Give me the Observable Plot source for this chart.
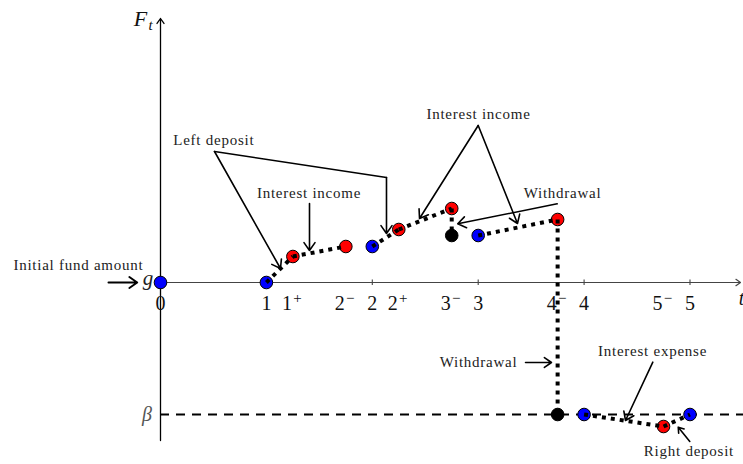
<!DOCTYPE html>
<html>
<head>
<meta charset="utf-8">
<script src="https://cdn.jsdelivr.net/npm/d3@7"></script>
<script src="https://cdn.jsdelivr.net/npm/@observablehq/plot@0.6"></script>
<style>
  body { margin: 0; background: #fff; }
</style>
</head>
<body>
<div id="chart"></div>
<script>
// Fund value path F_t over time: each state of the fund
const stateNames  = ["0", "1", "1+", "2-", "2", "2+", "3-", "3-w", "3", "4-", "4-w", "4", "5-", "5"];
const stateTimes  = [0, 1, 1.25, 1.75, 2, 2.25, 2.75, 2.75, 3, 3.75, 3.75, 4, 4.75, 5];
const stateLevels = [0, 0, 0.26, 0.36, 0.36, 0.53, 0.74, 0.47, 0.47, 0.63, -1.32, -1.32, -1.44, -1.32];
// start = beginning of a period, end = just before a cash flow, after = just after a withdrawal
const stateKinds  = ["start", "start", "end", "end", "start", "end", "end", "after", "start", "end", "after", "start", "end", "start"];

// Dotted path pieces (pairs of state indices)
const pathPieces = [[1, 2], [2, 3], [4, 5], [5, 6], [6, 7], [8, 9], [9, 10], [11, 12], [12, 13]];

// Levels
const initialFund = 0;     // g
const floorLevel = -1.32;  // beta

// Time axis labels
const tickTimes = [0, 1, 1.25, 1.75, 2, 2.25, 2.75, 3, 3.75, 4, 4.75, 5];
const tickBase  = ["0", "1", "1", "2", "2", "2", "3", "3", "4", "4", "5", "5"];
const tickSup   = ["", "", "+", "\u2212", "", "+", "\u2212", "", "\u2212", "", "\u2212", ""];
const tickMarks = [2, 3, 4, 5];

// Annotation texts (x, baseline y)
const noteTexts = ["Left deposit", "Interest income", "Interest income", "Withdrawal", "Withdrawal", "Interest expense", "Right deposit", "Initial fund amount"];
const noteX = [0.503, 1.402, 3.003, 3.796, 3.003, 4.646, 4.990, -0.775];
const noteY = [1.38, 0.85, 1.64, 0.85, -0.847, -0.73, -1.73, 0.13];

// Annotation arrows [x1, y1, x2, y2]
const noteArrows = [
  [0.51, 1.31, 1.133, 0.14],
  [2.134, 1.05, 2.134, 0.49],
  [1.407, 0.79, 1.407, 0.32],
  [3.0, 1.57, 2.446, 0.64],
  [3.0, 1.57, 3.371, 0.59],
  [3.746, 0.787, 2.807, 0.587],
  [3.447, -0.80, 3.692, -0.80],
  [4.649, -0.797, 4.391, -1.38],
  [4.998, -1.59, 4.889, -1.447]
];
// Bend of the "Left deposit" pointer
const noteBend = [[0.51, 1.31], [2.134, 1.05]];
// Pointer to g
const gArrow = [[-0.491, 0, -0.22, 0]];

const states = stateNames.map((n, i) => ({name: n, t: stateTimes[i], F: stateLevels[i], kind: stateKinds[i]}));
const pieces = pathPieces.map(([a, b]) => ({x1: stateTimes[a], y1: stateLevels[a], x2: stateTimes[b], y2: stateLevels[b]}));
const ticks = tickTimes.map((t, i) => ({t, base: tickBase[i], sup: tickSup[i]}));
const notes = noteTexts.map((s, i) => ({s, x: noteX[i], y: noteY[i]}));
const arrows = noteArrows.map(([x1, y1, x2, y2]) => ({x1, y1, x2, y2}));

const serif = "'Liberation Serif', 'DejaVu Serif', serif";

const chart = Plot.plot({
  width: 743,
  height: 464,
  marginLeft: 0, marginRight: 0, marginTop: 0, marginBottom: 0,
  x: {domain: [-160 / 105.9, 583 / 105.9], axis: null},
  y: {domain: [-1.82, 2.82], axis: null},
  color: {type: "ordinal", domain: ["start", "end", "after"], range: ["#0000ff", "#ff0000", "#000000"]},
  style: {fontFamily: serif, background: "#fff"},
  marks: [
    // beta floor
    Plot.ruleY([floorLevel], {x1: 0, x2: 5.6, stroke: "#000", strokeWidth: 1.8, strokeDasharray: "9,7"}),
    // time axis
    Plot.arrow([{x1: 0, y1: 0, x2: 5.477, y2: 0}], {x1: "x1", y1: "y1", x2: "x2", y2: "y2", stroke: "#444", strokeWidth: 1.2, headLength: 7, headAngle: 70}),
    Plot.ruleX(tickMarks, {y1: -0.03, y2: 0.025, stroke: "#444", strokeWidth: 1.1}),
    // F axis
    Plot.arrow([{x1: 0, y1: -1.58, x2: 0, y2: 2.64}], {x1: "x1", y1: "y1", x2: "x2", y2: "y2", stroke: "#000", strokeWidth: 1.3, headLength: 7, headAngle: 70}),
    // states
    Plot.dot(states, {x: "t", y: "F", fill: "kind", r: 6.3, stroke: "#000", strokeWidth: 1}),
    // dotted path
    Plot.link(pieces, {x1: "x1", y1: "y1", x2: "x2", y2: "y2", stroke: "#000", strokeWidth: 4, strokeDasharray: "4,5", strokeLinecap: "butt"}),
    // time labels
    Plot.text(ticks.filter(d => !d.sup), {x: "t", y: () => 0, text: "base", dy: 21, fontSize: 20, fill: "#111"}),
    Plot.text(ticks.filter(d => d.sup), {x: "t", y: () => 0, text: "base", dy: 21, dx: -6, fontSize: 20, fill: "#111"}),
    Plot.text(ticks.filter(d => d.sup), {x: "t", y: () => 0, text: "sup", dy: 16, dx: 4.5, fontSize: 15, fill: "#111"}),
    Plot.text([5.486], {x: d => d, y: () => 0, text: () => "t", dy: 16.5, fontSize: 20, fontStyle: "italic", fill: "#111"}),
    // level labels
    Plot.text([initialFund], {x: () => -0.118, y: d => d, text: () => "g", dy: -4, fontSize: 21, fontStyle: "italic", fill: "#222"}),
    Plot.text([floorLevel], {x: () => -0.127, y: d => d, text: () => "\u03b2", fontSize: 20, fontStyle: "italic", fill: "#555"}),
    Plot.text([2.57], {x: () => -0.19, y: d => d, text: () => "F", fontSize: 22, fontStyle: "italic", fill: "#111", lineAnchor: "bottom"}),
    Plot.text([2.53], {x: () => -0.094, y: d => d, text: () => "t", fontSize: 15, fontStyle: "italic", fill: "#111", lineAnchor: "bottom"}),
    // annotations
    Plot.line(noteBend, {x: d => d[0], y: d => d[1], stroke: "#000", strokeWidth: 1.6}),
    Plot.arrow(arrows, {x1: "x1", y1: "y1", x2: "x2", y2: "y2", stroke: "#000", strokeWidth: 1.6, headLength: 9, headAngle: 70}),
    Plot.arrow(gArrow, {x1: d => d[0], y1: d => d[1], x2: d => d[2], y2: d => d[3], stroke: "#000", strokeWidth: 2, headLength: 9, headAngle: 70}),
    Plot.text(notes, {x: "x", y: "y", text: "s", fontSize: 15, fill: "#222", lineAnchor: "bottom"})
  ]
});

// widen the annotation lettering slightly
const noteSet = new Set(noteTexts);
d3.select(chart).selectAll("text").filter(function () { return noteSet.has(this.textContent); })
  .style("letter-spacing", "0.75px");

document.getElementById("chart").appendChild(chart);
</script>
</body>
</html>
